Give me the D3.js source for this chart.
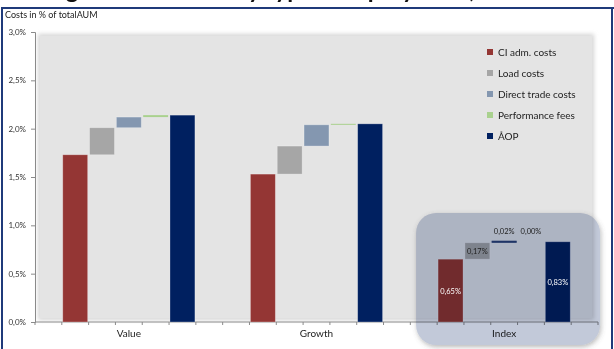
<!DOCTYPE html>
<html>
<head>
<meta charset="utf-8">
<script src="https://cdn.jsdelivr.net/npm/d3@7/dist/d3.min.js"></script>
<style>
  html, body { margin: 0; padding: 0; background: #fff; }
  svg { display: block; font-family: Lato, "Open Sans", sans-serif; }
</style>
</head>
<body>
<svg id="chart" width="614" height="349"></svg>
<script>
// Fund groups and cost components (percent of total AUM)
const groups = ["Value", "Growth", "Index"];
const components = ["CI adm. costs", "Load costs", "Direct trade costs", "Performance fees", "ÅOP"];
const componentColors = ["#943634", "#a6a6a6", "#8497b0", "#a9d18e", "#002060"];

const ciAdmCosts = [1.73, 1.53, 0.65];
const loadCosts = [0.28, 0.29, 0.17];
const directTradeCosts = [0.11, 0.22, 0.02];
const performanceFees = [0.02, 0.01, 0.00];
const aop = [2.14, 2.05, 0.83];

const yTicks = [0, 0.5, 1.0, 1.5, 2.0, 2.5, 3.0];
const titleText = "Average annual costs by type of equity fund, 2012";
const yAxisTitle = "Costs in % of totalAUM";
const labelledGroup = "Index";

const svg = d3.select("#chart");
const W = 614, H = 349;

const locale = d3.formatLocale({ decimal: ",", thousands: ".", grouping: [3], currency: ["", ""] });
const fmtTick = v => locale.format(".1f")(v) + "%";
const fmtVal = v => locale.format(".2f")(v) + "%";

// Slot layout: empty, 5 bars, 2 empty, 5 bars, 2 empty, 5 bars, empty
const slots = ["pad-start"];
groups.forEach((g, gi) => {
  if (gi > 0) { slots.push(`gap-${gi}-a`, `gap-${gi}-b`); }
  components.forEach(c => slots.push(`${g}|${c}`));
});
slots.push("pad-end");

const plot = { left: 35, right: 598, top: 32, bottom: 322 };
const x = d3.scaleBand().domain(slots).range([plot.left, plot.right])
  .paddingInner(0.07).paddingOuter(0.035);
const y = d3.scaleLinear().domain([0, 3.0]).range([plot.bottom, plot.top]);

const defs = svg.append("defs");
const soft = defs.append("filter").attr("id", "soft").attr("x", "-5%").attr("y", "-5%").attr("width", "110%").attr("height", "110%");
soft.append("feGaussianBlur").attr("stdDeviation", 2);
const shadow = defs.append("filter").attr("id", "shadow").attr("x", "-10%").attr("y", "-10%").attr("width", "120%").attr("height", "125%");
shadow.append("feDropShadow").attr("dx", 1).attr("dy", 2).attr("stdDeviation", 2.5)
  .attr("flood-color", "#555").attr("flood-opacity", 0.4);

// Title (runs off the top edge)
svg.append("text").attr("x", 4).attr("y", -2)
  .attr("font-size", 24).attr("font-weight", "bold").attr("fill", "#111")
  .text(titleText);

// Chart frame
const frame = svg.append("g").attr("stroke", "#1f3a7a").attr("stroke-width", 2).attr("fill", "none");
frame.append("line").attr("x1", 2).attr("x2", W).attr("y1", 8).attr("y2", 8);
frame.append("line").attr("x1", 2).attr("x2", 2).attr("y1", 7).attr("y2", H);
frame.append("line").attr("x1", 612).attr("x2", 612).attr("y1", 7).attr("y2", H);

svg.append("text").attr("x", 5).attr("y", 18)
  .attr("font-size", 9).attr("fill", "#222").text(yAxisTitle);

// Plot background
svg.append("rect").attr("x", 38).attr("y", 34).attr("width", 556).attr("height", 286)
  .attr("fill", "#d6d6d6").attr("filter", "url(#soft)");
svg.append("rect").attr("x", 40).attr("y", 36).attr("width", 552).attr("height", 282)
  .attr("fill", "#e4e4e4");

// Y axis
const yAxis = svg.append("g").attr("transform", `translate(${plot.left},0)`)
  .call(d3.axisLeft(y).tickValues(yTicks).tickFormat(fmtTick).tickSize(4).tickPadding(5));
yAxis.select(".domain").attr("stroke", "#8a8a8a");
yAxis.selectAll(".tick line").attr("stroke", "#8a8a8a");
yAxis.selectAll(".tick text").attr("font-size", 8).attr("fill", "#333")
  .attr("font-family", "Lato, sans-serif");

// X axis line and slot ticks
const step = x.step();
const xa = svg.append("g");
xa.append("line").attr("x1", plot.left).attr("x2", plot.right)
  .attr("y1", plot.bottom).attr("y2", plot.bottom).attr("stroke", "#8a8a8a");
xa.selectAll("line.tick").data(d3.range(slots.length + 1)).join("line")
  .attr("class", "tick")
  .attr("x1", i => plot.left + i * step).attr("x2", i => plot.left + i * step)
  .attr("y1", plot.bottom).attr("y2", plot.bottom + 3).attr("stroke", "#8a8a8a");

// Waterfall segments per group
const series = [ciAdmCosts, loadCosts, directTradeCosts, performanceFees];
const bars = [];
groups.forEach((g, gi) => {
  let base = 0;
  series.forEach((s, si) => {
    bars.push({ group: g, comp: components[si], color: componentColors[si], y0: base, y1: base + s[gi], value: s[gi] });
    base += s[gi];
  });
  bars.push({ group: g, comp: components[4], color: componentColors[4], y0: 0, y1: aop[gi], value: aop[gi] });
});

svg.append("g").selectAll("rect").data(bars.filter(b => b.value > 0)).join("rect")
  .attr("x", d => x(`${d.group}|${d.comp}`))
  .attr("width", x.bandwidth())
  .attr("y", d => y(d.y1))
  .attr("height", d => Math.max(1, y(d.y0) - y(d.y1)))
  .attr("fill", d => d.color)
  .attr("stroke", d => d.value > 0.05 ? "rgba(255,255,255,0.35)" : "none")
  .attr("stroke-width", 0.8);

// Group labels
svg.append("g").selectAll("text").data(groups).join("text")
  .attr("x", g => x(`${g}|${components[2]}`) + x.bandwidth() / 2)
  .attr("y", 337).attr("text-anchor", "middle")
  .attr("font-size", 10).attr("fill", "#222").text(g => g);

// Highlight panel over the Index group (multiplied over the bars beneath)
const idxFirst = x(`${labelledGroup}|${components[0]}`);
svg.append("rect")
  .attr("x", idxFirst - 22).attr("y", 213).attr("width", 184).attr("height", 132)
  .attr("rx", 20).attr("ry", 20)
  .attr("fill", "#c2c9d9")
  .style("mix-blend-mode", "multiply")
  .attr("filter", "url(#shadow)");

// Index direct trade marker drawn above the panel
const idxBars = bars.filter(b => b.group === labelledGroup);
const dt = idxBars.find(b => b.comp === components[2]);
svg.append("rect")
  .attr("x", x(`${dt.group}|${dt.comp}`)).attr("width", x.bandwidth())
  .attr("y", y(dt.y1)).attr("height", Math.max(1.5, y(dt.y0) - y(dt.y1)))
  .attr("fill", "#1f3466");

// Value labels for the Index group
svg.append("g").selectAll("text").data(idxBars).join("text")
  .attr("x", d => x(`${d.group}|${d.comp}`) + x.bandwidth() / 2)
  .attr("y", d => {
    const h = y(d.y0) - y(d.y1);
    return h > 12 ? (y(d.y0) + y(d.y1)) / 2 + 3 : y(d.y1) - 7;
  })
  .attr("text-anchor", "middle").attr("font-size", 7.5)
  .attr("fill", d => (d.comp === components[0] || d.comp === components[4]) ? "#fff" : "#222")
  .text(d => fmtVal(d.value));

// Legend
const legend = svg.append("g").attr("transform", "translate(487,0)");
const ly = [52, 73, 94, 115, 136];
components.forEach((c, i) => {
  legend.append("rect").attr("x", 0).attr("y", ly[i] - 3).attr("width", 6).attr("height", 6)
    .attr("fill", componentColors[i]);
  legend.append("text").attr("x", 11).attr("y", ly[i] + 3.5)
    .attr("font-size", 10).attr("fill", "#222").text(c);
});
</script>
</body>
</html>
